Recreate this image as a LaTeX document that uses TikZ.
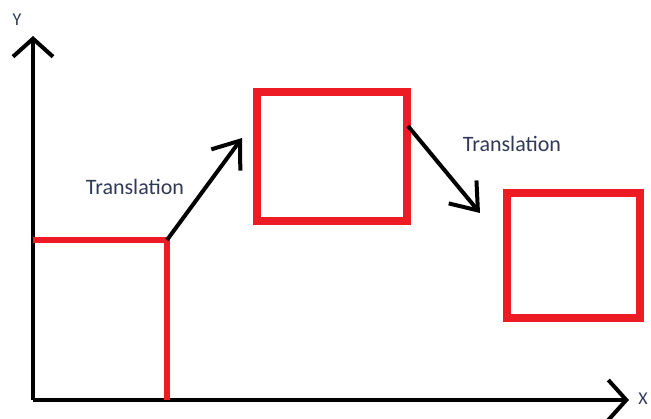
\documentclass[tikz,border=0pt]{standalone}
\usepackage{fontspec}
\setmainfont{Carlito}
\usetikzlibrary{arrows.meta}
\definecolor{boxred}{RGB}{237,28,36}
\definecolor{labelink}{RGB}{48,58,88}
\begin{document}
\begin{tikzpicture}[x=1pt,y=-1pt]
       \tikzstyle{axis}=[line width=4.5pt, -{Straight Barb[length=18pt,width=40pt,line width=4pt]}]
       \tikzstyle{move}=[line width=4pt, -{Straight Barb[length=24pt,width=36pt,line width=4pt]}]
       \tikzstyle{redline}=[draw=boxred, line width=5.5pt]
       \tikzstyle{redbox}=[draw=boxred, line width=8pt, inner sep=0pt]
       \tikzstyle{axislabel}=[text=labelink, font=\fontsize{18}{20}\selectfont, inner sep=0pt]
       \tikzstyle{movelabel}=[text=labelink, font=\fontsize{22}{24}\selectfont, inner sep=0pt]
       \useasboundingbox (0,0) rectangle (651,419);
       \coordinate (origin) at (33,400);
       \coordinate (ytop) at (33,36);
       \coordinate (xend) at (629,400);
       \draw[axis] (origin) -- (ytop);
       \draw[axis] (origin) -- (xend);
       \node[axislabel] (ylabel) at (17,20) {Y};
       \node[axislabel] (xlabel) at (643,399) {X};
       % first square, on the axes
       \coordinate (sqtl) at (33,240);
       \coordinate (sqtr) at (167,240);
       \coordinate (sqbr) at (167,400);
       \draw[redline] (sqtl) -- (sqtr) -- (sqbr);
       % moved squares
       \node[redbox, minimum width=150pt, minimum height=128.5pt] (boxa) at (331.5,156.75) {};
       \node[redbox, minimum width=133.5pt, minimum height=125pt] (boxb) at (573.25,255.5) {};
       \coordinate (tipa) at (242,138);
       \coordinate (starta) at (408,126);
       \coordinate (tipb) at (480,213);
       \draw[move] (sqtr) -- (tipa);
       \draw[move] (starta) -- (tipb);
       \node[movelabel] (labela) at (135,187) {Translation};
       \node[movelabel] (labelb) at (512,144) {Translation};
\end{tikzpicture}
\end{document}
